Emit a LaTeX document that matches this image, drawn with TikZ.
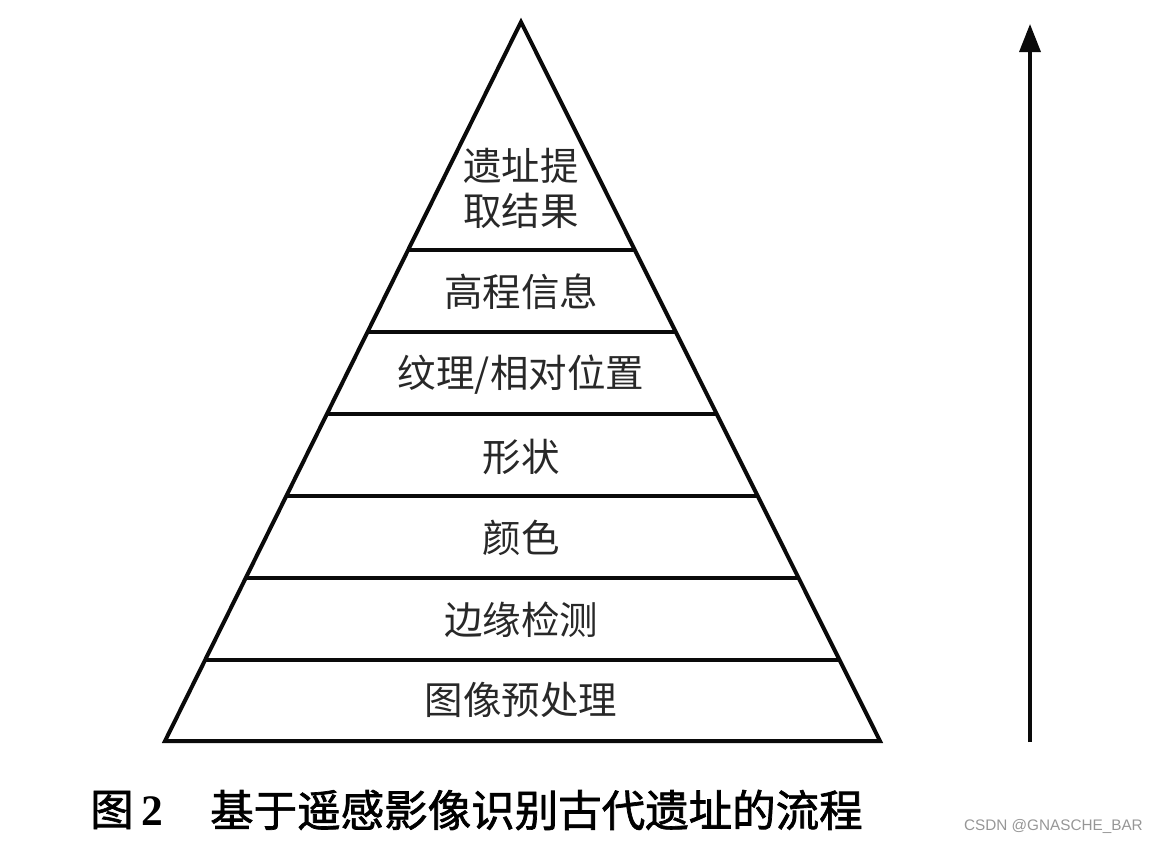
\documentclass[tikz,border=0pt]{standalone}
\usepackage{fontspec}
\setmainfont{Liberation Serif}
\setsansfont{Liberation Sans}
\newfontfamily\cjk{Noto Sans CJK SC}
\newfontfamily\cjkcap[FakeBold=1.6]{Noto Sans CJK SC}
\usetikzlibrary{arrows.meta, positioning, calc}
\definecolor{LineBlack}{RGB}{10, 10, 10}
\definecolor{TextGray}{RGB}{40, 40, 40}
\definecolor{MarkGray}{RGB}{150, 150, 150}
\tikzset{
  edge/.style={line width=4pt, color=LineBlack, line join=miter},
  layer/.style={font=\cjk\fontsize{38.5}{45}\selectfont, text=TextGray,
    align=center, inner sep=0pt},
  uparr/.style={-{Triangle[length=28pt, width=21pt]}, line width=3.5pt,
    color=LineBlack},
  captext/.style={font=\cjkcap\fontsize{43.5}{50}\selectfont, text=black,
    inner sep=0pt, anchor=west},
  wmark/.style={font=\sffamily\fontsize{15.3}{17}\selectfont, text=MarkGray,
    inner sep=0pt, anchor=east},
}
\begin{document}
\begin{tikzpicture}[x=1pt, y=-1pt]
  \useasboundingbox (0,0) rectangle (1158,844);
  % pyramid outline
  \coordinate (apex) at (521,22);
  \coordinate (bl) at (165,741);
  \coordinate (br) at (880,741);
  \draw[edge] (apex) -- (br) -- (bl) -- cycle;
  % layer borders
  \foreach \y in {250,332,414,496,578,660}
    \draw[edge] ($(apex)!{(\y-22)/719}!(bl)$) -- ($(apex)!{(\y-22)/719}!(br)$);
  % layer labels
  \node[layer] (l7) at (521,188) {遗址提\\取结果};
  \node[layer] (l6) at (521,292) {高程信息};
  \node[layer] (l5) at (521,375) {纹理/相对位置};
  \node[layer] (l4) at (521,457) {形状};
  \node[layer] (l3) at (521,538) {颜色};
  \node[layer] (l2) at (521,620) {边缘检测};
  \node[layer] (l1) at (521,700) {图像预处理};
  % rising arrow
  \coordinate (abot) at (1030,742);
  \coordinate (atop) at (1030,24);
  \draw[uparr] (abot) -- (atop);
  % caption
  \node[captext] (capnum) at (90,810) {图\kern8pt{\rmfamily\bfseries 2}};
  \node[captext] (captxt) at (210,810) {基于遥感影像识别古代遗址的流程};
  \node[wmark] (wm) at (1143,826) {CSDN @GNASCHE\_BAR};
\end{tikzpicture}
\end{document}
